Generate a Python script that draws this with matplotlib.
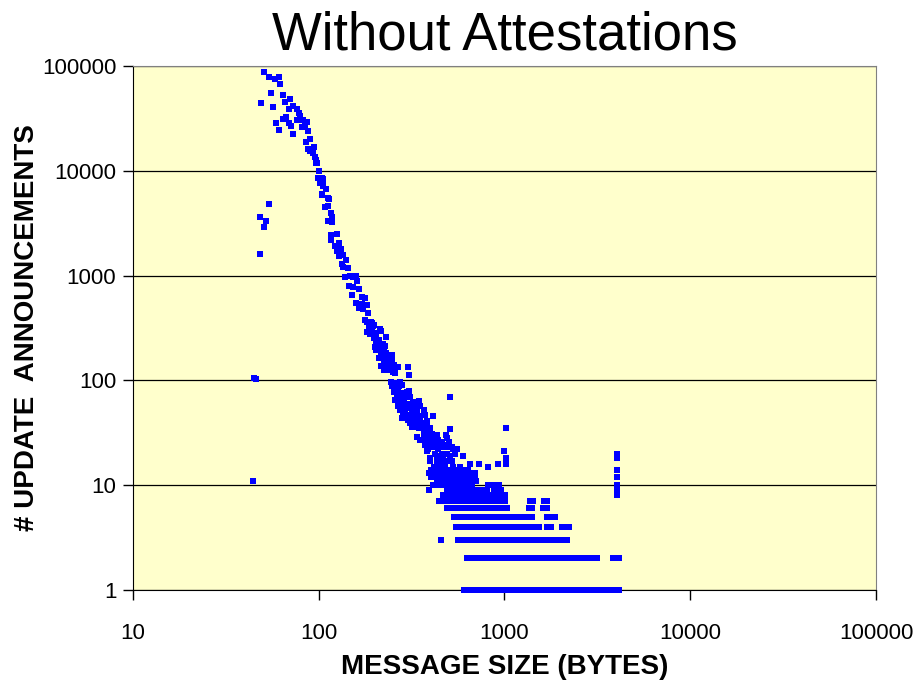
import numpy as np
import matplotlib
matplotlib.use("Agg")
import matplotlib.pyplot as plt

plt.rcParams['font.family'] = ['Liberation Sans', 'DejaVu Sans']

# scattered (size, count) points of the main band and the outliers
sizes = [
    54, 48, 52, 51, 48, 45, 46, 44,
    51, 54, 58, 61, 62, 55, 64, 70, 49, 66, 57, 73, 69, 76, 78, 79, 67, 64,
    76, 82, 86, 59, 69, 71, 81, 84, 61, 88, 73, 90, 85, 94, 88, 90, 93, 95,
    97, 98, 100, 99, 104, 101, 106, 110, 104, 112,
    97, 105, 102, 106, 104, 113, 108, 112, 116, 118, 112, 118, 116, 125, 117,
    128, 122, 131, 125, 128, 135, 140, 133, 135, 144, 138, 147, 153, 158, 160,
    146, 153, 165, 151, 171, 178, 158, 171, 182, 164, 174, 185, 178, 191, 196,
    188, 214,
    181, 193, 187, 198, 182, 193, 189, 200, 204, 217, 198, 210, 203, 230, 200,
    210, 214, 222, 227, 204, 217, 224, 230, 249, 210, 222, 232, 240, 225, 248,
    217, 232, 248, 253, 266, 304, 224, 237, 251, 257, 306, 245, 253, 264, 274,
    248, 257, 271, 280, 253, 266, 280, 299, 306, 264, 274, 291, 257, 271, 286,
    310, 266, 280, 299, 322, 345, 274, 291, 310, 330, 351, 285, 299, 317, 339,
    367, 509, 280, 304, 322, 348, 373, 412, 310, 330, 351, 382, 317, 342, 360,
    382, 397, 509, 336, 367, 382, 406, 433, 351, 373, 397, 422, 489, 373, 397,
    415, 441, 469, 389, 406, 441, 469, 489, 521, 553, 599, 422, 450, 478, 509,
    541, 397, 433, 469,
    340, 357, 382, 322, 345, 373, 389, 336, 367, 397, 422, 484, 367, 406, 441,
    415, 460, 500, 509, 389, 433, 469, 530, 382, 422, 460, 489, 541, 599, 397,
    433, 460, 489, 521, 417, 450, 478, 528, 576, 652, 728, 815, 920, 1015,
    1015, 1000, 1015,
    455, 393, 4030, 4030, 4030, 4030, 4030, 4030, 4030,
]
counts = [
    4800, 3600, 3300, 2900, 1600, 105, 102, 11,
    88300, 78000, 74600, 78000, 66800, 54800, 52800, 48400, 44400, 45300,
    40600, 41500, 38900, 38600, 35400, 33600, 32800, 31000, 30500, 30500,
    29400, 28400, 28400, 26900, 26400, 27200, 24600, 23800, 22300, 20000,
    18700, 16800, 16000, 15500, 14700, 13500, 12700, 11800, 10000, 8480, 8590,
    7700, 7160, 6660, 5880, 5540,
    11900, 8300, 7760, 7330, 5970, 5380, 4490, 4620, 3930, 3650, 3300, 3270,
    2440, 2490, 2190, 2060, 1920, 1810, 1730, 1540, 1560, 1410, 1290, 1220,
    1170, 964, 991, 977, 991, 893, 796, 773, 739, 648, 629, 607, 544, 536,
    524, 488, 476, 436, 377, 363, 330, 325, 309,
    363, 355, 330, 338, 292, 297, 277, 281, 270, 297, 252, 245, 234, 261, 210,
    207, 217, 222, 213, 195, 188, 195, 184, 176, 163, 167, 159, 151, 147, 157,
    136, 136, 132, 140, 133, 133, 126, 126, 121, 117, 112, 97, 94, 95, 97,
    89, 85, 88, 91, 78, 79, 76, 78, 79, 73, 68, 70, 65, 63, 64,
    69, 57, 56, 59, 62, 63, 52, 53, 54, 56, 57, 49, 47, 49, 50,
    52, 70, 44, 42, 45, 46, 47, 46, 39, 41, 41, 41, 36, 37, 36,
    37, 35, 34, 29, 33, 30, 31, 30, 27, 27, 28, 27, 28, 24, 25,
    24, 25, 24, 22, 23, 22, 23, 23, 23, 22, 19, 20, 19, 20, 19,
    20, 18, 18, 18,
    40, 39, 37, 36, 35, 34, 33, 29, 30, 31, 30, 30, 27, 27, 27,
    25, 26, 26, 23, 23, 23, 23, 22, 21, 20, 20, 20, 20, 19, 17,
    17, 17, 17, 17, 15, 15, 15, 15, 15, 16, 16, 15, 16, 16,
    18, 21, 35,
    3, 9, 20, 18, 14, 12, 10, 9, 8,
]

# low counts: every byte size inside a run shares the same count
run_count = [1, 1, 2, 2, 2, 2, 3, 3, 4, 4, 4, 4, 4, 5, 5, 5, 5, 5,
             6, 6, 6, 7, 7, 7, 8, 9, 9, 9, 10, 10, 11, 12, 13, 14]
run_start = [605, 711, 628, 1990, 2420, 3830, 560, 2120, 548, 1160, 1330,
             1690, 2030, 535, 1010, 1160, 1330, 1690, 490, 1350, 1610, 444,
             1370, 1630, 466, 490, 760, 880, 410, 820, 434, 400, 390, 400]
run_end = [686, 4130, 1940, 2370, 3150, 4130, 2010, 2170, 1110, 1260, 1530,
           1770, 2220, 980, 1100, 1250, 1400, 1870, 1030, 1410, 1690, 1010,
           1420, 1690, 1010, 720, 810, 960, 670, 940, 700, 690, 690, 640]

xTicks = [10, 100, 1000, 10000, 100000]
yTicks = [1, 10, 100, 1000, 10000, 100000]

# expand the runs into one point per byte size
runX = []
runY = []
for c, a, b in zip(run_count, run_start, run_end):
    xs = np.arange(a, b + 1)
    runX.extend(xs)
    runY.extend([c] * len(xs))

fig = plt.figure(figsize=(9.14, 6.83), dpi=100)
ax = fig.add_axes([0.1455, 0.1362, 0.8129, 0.7672])
ax.set_facecolor('#FFFFCC')

ax.plot(runX, runY, 's', color='#0000FF', markersize=3.8, mew=0,
        clip_on=False, zorder=3)
ax.plot(sizes, counts, 's', color='#0000FF', markersize=3.8, mew=0,
        clip_on=False, zorder=3)

ax.set_xscale('log')
ax.set_yscale('log')
ax.set_xlim(10, 100000)
ax.set_ylim(1, 100000)
ax.set_xticks(xTicks)
ax.set_xticklabels([str(t) for t in xTicks])
ax.set_yticks(yTicks)
ax.set_yticklabels([str(t) for t in yTicks])
ax.minorticks_off()

# horizontal grid lines at each decade
ax.yaxis.grid(True, color='black', linewidth=0.9)
ax.set_axisbelow(True)

ax.spines['top'].set_color('#808080')
ax.spines['right'].set_color('#808080')
ax.spines['left'].set_color('black')
ax.spines['bottom'].set_color('black')

ax.tick_params(axis='both', direction='out', length=7, width=1, labelsize=16)
ax.tick_params(axis='x', pad=17)
ax.tick_params(axis='y', pad=5)

ax.set_xlabel('MESSAGE SIZE (BYTES)', fontsize=20, fontweight='bold')
ax.xaxis.set_label_coords(0.5, -0.147)
ax.xaxis.label.set_va('center')
ax.set_ylabel('# UPDATE  ANNOUNCEMENTS', fontsize=20, fontweight='bold')
ax.yaxis.set_label_coords(-0.1427, 0.5)
ax.yaxis.label.set_va('center')

fig.text(0.552, 1 - 50 / 683.0, 'Without Attestations', fontsize=38,
         ha='center', va='baseline')

fig.savefig('out.png', dpi=100)
